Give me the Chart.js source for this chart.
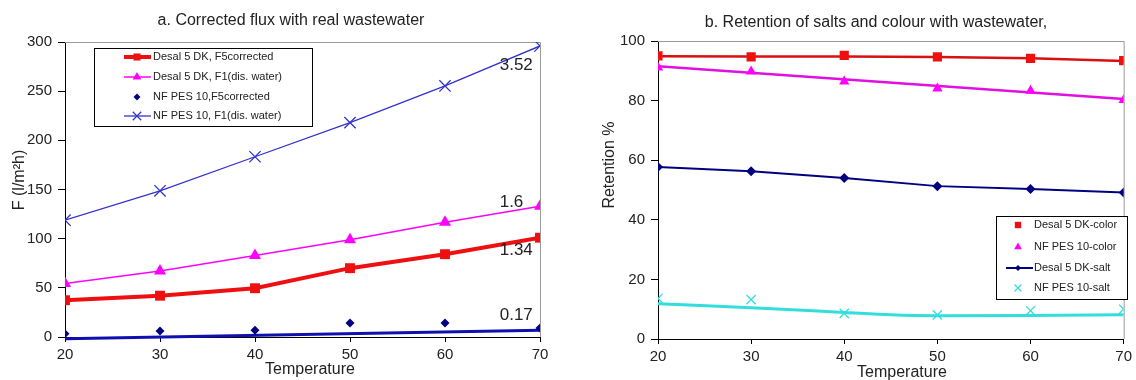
<!DOCTYPE html>
<html><head><meta charset="utf-8">
<script src="https://cdn.jsdelivr.net/npm/chart.js@4.4.1/dist/chart.umd.min.js"></script>
<style>
html,body{margin:0;padding:0;background:#fff;width:1136px;height:380px;overflow:hidden}
.box{position:absolute;top:0;width:568px;height:380px}
canvas{display:block}
</style></head><body>
<div class="box" style="left:0"><canvas id="c1" width="568" height="380"></canvas></div>
<div class="box" style="left:568px"><canvas id="c2" width="568" height="380"></canvas></div>
<script>
// ---------- shared ----------
const temperatures = [20, 30, 40, 50, 60, 70];
const temperatureTicks = [20, 30, 40, 50, 60, 70];

// ---------- chart a: corrected flux ----------
const desalF5corrected = [37.4, 42, 49.6, 70, 84.2, 101];
const desalF1 = [54.3, 67.2, 82.9, 98.8, 116.8, 133];
const nfpesF5corrected = [3.4, 6.1, 6.8, 14.3, 14.3, 9.2];
const nfpesF5TrendX = [20, 70];
const nfpesF5Trend = [-1.7, 6.8];
const nfpesF1 = [118.8, 148.7, 183.3, 218, 255.3, 296];
const slopeLabels = ['3.52', '1.6', '1.34', '0.17'];
const slopeX = [67.5, 67, 67.5, 67.5];
const slopeY = [276.7, 137, 88.5, 22.4];
const fluxTicks = [0, 50, 100, 150, 200, 250, 300];

// ---------- chart b: retention ----------
const desalColor = [95, 94.7, 95.2, 94.7, 94.2, 93.4];
const desalColorTrend = [94.9, 94.8, 94.8, 94.6, 94.2, 93.3];
const nfpesColor = [91.1, 89.8, 86.4, 84.1, 83.3, 80.2];
const nfpesColorTrendX = [20, 70];
const nfpesColorTrend = [91.5, 80.5];
const desalSalt = [57.7, 56.3, 54, 51.3, 50.3, 49.2];
const nfpesSalt = [13.6, 13.2, 8.6, 8.1, 9.5, 10];
const nfpesSaltTrendX = [20, 30, 40, 45, 50, 60, 70];
const nfpesSaltTrend = [11.8, 10.5, 8.9, 8.1, 7.8, 7.9, 8.1];
const retentionTicks = [0, 20, 40, 60, 80, 100];

const FONT = "'Liberation Sans', Arial, sans-serif";
const TXT = '#222';
const RED = '#ee1010', MAG = '#ff00ff', NAVY = '#000080', BLUE = '#3333cc', TBLUE = '#1010b0', CYAN = '#33dddd';

const pts = (xs, ys) => xs.map((x, i) => ({x: x, y: ys[i]}));

function drawMarker(ctx, style, x, y, r, color) {
  ctx.save();
  ctx.fillStyle = color; ctx.strokeStyle = color; ctx.lineWidth = 1.2;
  ctx.beginPath();
  if (style === 'rect') {
    const s = r * Math.SQRT1_2; ctx.rect(x - s, y - s, 2 * s, 2 * s); ctx.fill();
  } else if (style === 'triangle') {
    ctx.moveTo(x, y - r);
    ctx.lineTo(x + r * Math.sin(2 * Math.PI / 3), y - r * Math.cos(2 * Math.PI / 3));
    ctx.lineTo(x + r * Math.sin(4 * Math.PI / 3), y - r * Math.cos(4 * Math.PI / 3));
    ctx.closePath(); ctx.fill();
  } else if (style === 'rectRot') {
    ctx.moveTo(x, y - r); ctx.lineTo(x + r, y); ctx.lineTo(x, y + r); ctx.lineTo(x - r, y); ctx.closePath(); ctx.fill();
  } else if (style === 'crossRot') {
    const s = r * Math.SQRT1_2;
    ctx.moveTo(x - s, y - s); ctx.lineTo(x + s, y + s); ctx.moveTo(x + s, y - s); ctx.lineTo(x - s, y + s); ctx.stroke();
  }
  ctx.restore();
}

const framePlugin = {
  id: 'frame',
  beforeDatasetsDraw(chart) {
    const a = chart.chartArea, ctx = chart.ctx;
    ctx.save();
    ctx.strokeStyle = '#9a9a9a'; ctx.lineWidth = 1;
    ctx.beginPath();
    ctx.moveTo(a.left, a.top + 0.5); ctx.lineTo(a.right + 0.5, a.top + 0.5);
    ctx.lineTo(a.right + 0.5, a.bottom);
    ctx.stroke();
    ctx.restore();
  }
};

const decorPlugin = {
  id: 'decor',
  afterDraw(chart, args, opts) {
    const ctx = chart.ctx;
    ctx.save();
    // texts
    (opts.texts || []).forEach(t => {
      ctx.save();
      ctx.font = (t.size || 16) + 'px ' + FONT;
      ctx.fillStyle = TXT; ctx.textAlign = 'center'; ctx.textBaseline = 'middle';
      ctx.translate(t.x, t.y);
      if (t.rot) ctx.rotate(t.rot);
      ctx.fillText(t.text, 0, 0);
      ctx.restore();
    });
    // slope annotations (data coords)
    if (opts.notes) {
      const xs = chart.scales.x, ys = chart.scales.y;
      ctx.font = '17px ' + FONT; ctx.fillStyle = TXT; ctx.textAlign = 'center'; ctx.textBaseline = 'middle';
      opts.notes.labels.forEach((l, i) => {
        ctx.fillText(l, xs.getPixelForValue(opts.notes.x[i]), ys.getPixelForValue(opts.notes.y[i]));
      });
    }
    // legend
    const L = opts.legend;
    if (L) {
      ctx.fillStyle = '#fff'; ctx.fillRect(L.x, L.y, L.w, L.h);
      ctx.strokeStyle = '#000'; ctx.lineWidth = 1;
      ctx.strokeRect(L.x + 0.5, L.y + 0.5, L.w, L.h);
      ctx.font = '11px ' + FONT; ctx.textAlign = 'left'; ctx.textBaseline = 'middle';
      L.items.forEach((it, i) => {
        const y = L.rows[i];
        if (it.line) {
          ctx.strokeStyle = it.color; ctx.lineWidth = it.line;
          ctx.beginPath(); ctx.moveTo(L.lx0, y); ctx.lineTo(L.lx1, y); ctx.stroke();
        }
        drawMarker(ctx, it.style, L.mx, y, it.r, it.color);
        ctx.fillStyle = TXT;
        ctx.fillText(it.label, L.tx, y);
      });
    }
    ctx.restore();
  }
};

function axisX(h) {
  return {
    type: 'linear', min: 20, max: 70,
    afterBuildTicks(s) { s.ticks = temperatureTicks.map(v => ({value: v})); },
    ticks: {font: {family: FONT, size: 15}, color: TXT, padding: 4, maxRotation: 0, autoSkip: false},
    grid: {display: true, drawOnChartArea: false, drawTicks: true, tickLength: 5, color: '#000'},
    border: {display: true, color: '#000', width: 1},
    afterFit(s) { s.height = h; }
  };
}
function axisY(min, max, tickVals, w) {
  return {
    type: 'linear', min: min, max: max,
    afterBuildTicks(s) { s.ticks = tickVals.map(v => ({value: v})); },
    ticks: {font: {family: FONT, size: 15}, color: TXT, padding: 6},
    grid: {display: true, drawOnChartArea: false, drawTicks: true, tickLength: 7, color: '#000'},
    border: {display: true, color: '#000', width: 1},
    afterFit(s) { s.width = w; }
  };
}

Chart.defaults.font.family = FONT;

new Chart(document.getElementById('c1'), {
  type: 'scatter',
  data: {
    datasets: [
      {label: 'Desal 5 DK, F5corrected', data: pts(temperatures, desalF5corrected), showLine: true,
       borderColor: RED, backgroundColor: RED, borderWidth: 4, pointStyle: 'rect', pointRadius: 7, pointBorderWidth: 0},
      {label: 'Desal 5 DK, F1(dis. water)', data: pts(temperatures, desalF1), showLine: true,
       borderColor: MAG, backgroundColor: MAG, borderWidth: 1.5, pointStyle: 'triangle', pointRadius: 7, pointBorderWidth: 0},
      {label: 'NF PES 10,F5corrected', data: pts(temperatures, nfpesF5corrected), showLine: false,
       borderColor: NAVY, backgroundColor: NAVY, pointStyle: 'rectRot', pointRadius: 4.5, pointBorderWidth: 0},
      {label: 'trend NF PES 10,F5corrected', data: pts(nfpesF5TrendX, nfpesF5Trend), showLine: true,
       borderColor: TBLUE, borderWidth: 3, pointRadius: 0, clip: false},
      {label: 'NF PES 10, F1(dis. water)', data: pts(temperatures, nfpesF1), showLine: true,
       borderColor: BLUE, backgroundColor: BLUE, borderWidth: 1.3, pointStyle: 'crossRot', pointRadius: 8, pointBorderWidth: 1.3}
    ]
  },
  options: {
    responsive: false, animation: false, devicePixelRatio: 1,
    layout: {padding: {left: 0, right: 28, top: 42, bottom: 0}},
    scales: {x: axisX(43), y: axisY(0, 300, fluxTicks, 65)},
    plugins: {
      legend: {display: false}, title: {display: false}, tooltip: {enabled: false},
      decor: {
        texts: [
          {text: 'a. Corrected flux with real wastewater', x: 291, y: 21, size: 16},
          {text: 'Temperature', x: 310, y: 370, size: 16},
          {text: 'F (l/m²h)', x: 20, y: 180, size: 16, rot: -Math.PI / 2}
        ],
        notes: {labels: slopeLabels, x: slopeX, y: slopeY},
        legend: {
          x: 94, y: 48, w: 218, h: 78, rows: [57, 77, 97, 116], lx0: 124, lx1: 151, mx: 137, tx: 153,
          items: [
            {label: 'Desal 5 DK, F5corrected', color: RED, line: 4, style: 'rect', r: 5},
            {label: 'Desal 5 DK, F1(dis. water)', color: MAG, line: 1.5, style: 'triangle', r: 5},
            {label: 'NF PES 10,F5corrected', color: NAVY, line: 0, style: 'rectRot', r: 3.5},
            {label: 'NF PES 10, F1(dis. water)', color: BLUE, line: 1.3, style: 'crossRot', r: 6}
          ]
        }
      }
    }
  },
  plugins: [framePlugin, decorPlugin]
});

new Chart(document.getElementById('c2'), {
  type: 'scatter',
  data: {
    datasets: [
      {label: 'Desal 5 DK-color', data: pts(temperatures, desalColor), showLine: false,
       borderColor: RED, backgroundColor: RED, pointStyle: 'rect', pointRadius: 6.5, pointBorderWidth: 0},
      {label: 'trend Desal 5 DK-color', data: pts(temperatures, desalColorTrend), showLine: true,
       borderColor: '#d81010', borderWidth: 2.5, pointRadius: 0},
      {label: 'NF PES 10-color', data: pts(temperatures, nfpesColor), showLine: false,
       borderColor: MAG, backgroundColor: MAG, pointStyle: 'triangle', pointRadius: 6, pointBorderWidth: 0},
      {label: 'trend NF PES 10-color', data: pts(nfpesColorTrendX, nfpesColorTrend), showLine: true,
       borderColor: '#e010e0', borderWidth: 2.5, pointRadius: 0},
      {label: 'Desal 5 DK-salt', data: pts(temperatures, desalSalt), showLine: true,
       borderColor: NAVY, backgroundColor: NAVY, borderWidth: 2, pointStyle: 'rectRot', pointRadius: 5, pointBorderWidth: 0},
      {label: 'NF PES 10-salt', data: pts(temperatures, nfpesSalt), showLine: false,
       borderColor: CYAN, backgroundColor: CYAN, pointStyle: 'crossRot', pointRadius: 6.5, pointBorderWidth: 1.3},
      {label: 'trend NF PES 10-salt', data: pts(nfpesSaltTrendX, nfpesSaltTrend), showLine: true,
       borderColor: CYAN, borderWidth: 3, pointRadius: 0, cubicInterpolationMode: 'monotone'}
    ]
  },
  options: {
    responsive: false, animation: false, devicePixelRatio: 1,
    layout: {padding: {left: 0, right: 9, top: 41, bottom: 0}},
    scales: {x: axisX(41), y: axisY(0, 100, retentionTicks, 90)},
    plugins: {
      legend: {display: false}, title: {display: false}, tooltip: {enabled: false},
      decor: {
        texts: [
          {text: 'b. Retention of salts and colour with wastewater,', x: 308, y: 23, size: 16},
          {text: 'Temperature', x: 334, y: 373, size: 16},
          {text: 'Retention %', x: 42, y: 165, size: 16, rot: -Math.PI / 2}
        ],
        legend: {
          x: 428, y: 216, w: 131, h: 83, rows: [225, 247, 268, 288], lx0: 438, lx1: 465, mx: 450, tx: 466,
          items: [
            {label: 'Desal 5 DK-color', color: RED, line: 0, style: 'rect', r: 4.5},
            {label: 'NF PES 10-color', color: MAG, line: 0, style: 'triangle', r: 4.5},
            {label: 'Desal 5 DK-salt', color: NAVY, line: 2, style: 'rectRot', r: 3},
            {label: 'NF PES 10-salt', color: CYAN, line: 0, style: 'crossRot', r: 5}
          ]
        }
      }
    }
  },
  plugins: [framePlugin, decorPlugin]
});
</script>
</body></html>
